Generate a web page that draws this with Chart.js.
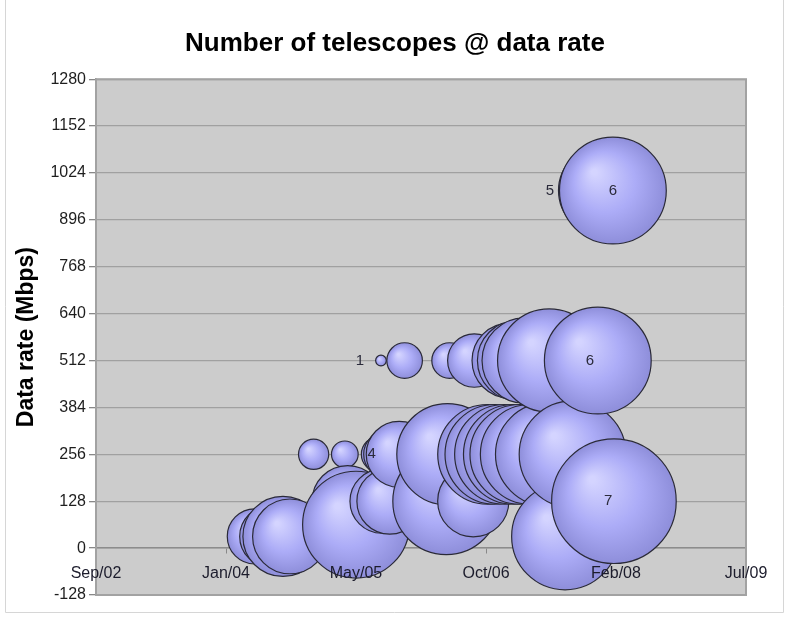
<!DOCTYPE html>
<html lang="en">
<head>
  <meta charset="UTF-8">
  <title>Number of telescopes @ data rate</title>
  <script src="https://cdn.jsdelivr.net/npm/chart.js"></script>
  <style>
    body { margin: 0; background: #fff; }
  </style>
</head>
<body>
  <canvas id="rateChart" width="787" height="628"></canvas>

  <script>
    // x axis is an Excel date axis: starts Sep/02, one major tick every 500 days
    const xTickDates = ['2002-09-01', '2004-01-14', '2005-05-28', '2006-10-10', '2008-02-22', '2009-07-06'];
    const xTickLabels = ['Sep/02', 'Jan/04', 'May/05', 'Oct/06', 'Feb/08', 'Jul/09'];

    // one bubble per observation: date, data rate (Mbps), number of telescopes
    const bubbleDates = [
      '2004-05-04', '2004-07-01', '2004-08-20', '2004-09-16', '2004-12-16',
      '2005-04-15', '2005-04-26', '2005-05-28', '2005-08-25', '2005-09-01',
      '2005-09-05', '2005-09-27', '2005-10-05', '2005-11-10', '2005-12-01',
      '2006-05-10', '2006-05-15', '2006-05-23', '2006-08-22', '2006-08-26',
      '2006-10-16', '2006-11-13', '2006-12-20', '2007-01-08', '2007-01-23',
      '2007-02-08', '2007-02-17', '2007-03-08', '2007-03-29', '2007-06-02',
      '2007-06-10', '2007-08-10', '2007-09-08', '2007-12-14', '2008-01-03',
      '2008-02-10', '2008-02-14'
    ];
    const bubbleRates = [
      32, 32, 32, 32, 256,
      256, 128, 64, 256, 512,
      128, 256, 128, 256, 512,
      128, 256, 512, 128, 512,
      256, 256, 256, 512, 256,
      512, 256, 512, 256, 256,
      512, 32, 256, 512, 976,
      976, 128
    ];
    const bubbleSizes = [
      3.1, 3.4, 4.5, 4.2, 1.7,
      1.5, 4, 6, 2, 0.6,
      3.6, 2.7, 3.7, 3.7, 2,
      6, 5.7, 2, 4, 3,
      5.6, 5.6, 5.6, 4.2, 5.6,
      4.5, 5.6, 4.8, 5.6, 5.8,
      5.8, 6, 6, 6, 5,
      6, 7
    ];

    // numbers written on the chart
    const labelDates = ['2005-06-12', '2005-07-27', '2007-06-13', '2008-02-10', '2007-11-14', '2008-01-23'];
    const labelRates = [512, 256, 976, 976, 512, 128];
    const labelTexts = ['1', '4', '5', '6', '6', '7'];

    const PX_PER_TELESCOPE = 8.9;

    function dayNum(d) {
      return Date.parse(d) / 86400000;
    }

    const points = bubbleDates.map((d, i) => ({
      x: dayNum(d),
      y: bubbleRates[i],
      r: bubbleSizes[i] * PX_PER_TELESCOPE
    }));

    function bubbleFill(ctx) {
      const chart = ctx.chart;
      const p = ctx.raw;
      const flat = '#a6a6f2';
      if (!p || !chart.scales || !chart.scales.x || !chart.scales.y) return flat;
      const cx = chart.scales.x.getPixelForValue(p.x);
      const cy = chart.scales.y.getPixelForValue(p.y);
      const r = Math.max(p.r, 1);
      if (!isFinite(cx) || !isFinite(cy)) return flat;
      const g = chart.ctx.createRadialGradient(cx - r * 0.35, cy - r * 0.35, r * 0.05, cx, cy, r);
      g.addColorStop(0, '#d4d4ff');
      g.addColorStop(0.55, '#acacf7');
      g.addColorStop(1, '#8e8eda');
      return g;
    }

    // grey plot area + frame, and the frame round the whole picture
    const plotArea = {
      id: 'plotArea',
      beforeDraw(chart) {
        const { ctx, chartArea: a } = chart;
        ctx.save();
        ctx.fillStyle = '#cccccc';
        ctx.fillRect(a.left, a.top, a.right - a.left, a.bottom - a.top);
        ctx.restore();
      },
      beforeDatasetsDraw(chart) {
        const { ctx, chartArea: a } = chart;
        ctx.save();
        ctx.strokeStyle = '#a2a2a2';
        ctx.lineWidth = 2;
        ctx.strokeRect(a.left, a.top, a.right - a.left, a.bottom - a.top);
        ctx.restore();
      },
      afterDraw(chart) {
        const ctx = chart.ctx;
        ctx.save();
        ctx.strokeStyle = '#d6d6d6';
        ctx.lineWidth = 1;
        ctx.beginPath();
        ctx.moveTo(5.5, 0);
        ctx.lineTo(5.5, 612.5);
        ctx.lineTo(783.5, 612.5);
        ctx.lineTo(783.5, 0);
        ctx.stroke();
        ctx.restore();
      }
    };

    const pointLabels = {
      id: 'pointLabels',
      afterDatasetsDraw(chart) {
        const ctx = chart.ctx;
        const xs = chart.scales.x, ys = chart.scales.y;
        ctx.save();
        ctx.font = '15px "Liberation Sans", Arial, sans-serif';
        ctx.fillStyle = '#2b2b3b';
        ctx.textAlign = 'center';
        ctx.textBaseline = 'middle';
        labelTexts.forEach((t, i) => {
          ctx.fillText(t, xs.getPixelForValue(dayNum(labelDates[i])), ys.getPixelForValue(labelRates[i]));
        });
        ctx.restore();
      }
    };

    Chart.defaults.font.family = '"Liberation Sans", Arial, sans-serif';
    Chart.defaults.color = '#1e1e1e';

    new Chart(document.getElementById('rateChart'), {
      type: 'bubble',
      data: {
        datasets: [{
          label: 'Telescopes',
          data: points,
          backgroundColor: bubbleFill,
          borderColor: '#2a2a38',
          borderWidth: 1.2
        }]
      },
      options: {
        responsive: false,
        animation: false,
        events: [],
        layout: {
          autoPadding: false,   // bubbles would otherwise push the plot area in
          padding: { left: 44, right: 41, top: 0, bottom: 33 }
        },
        plugins: {
          legend: { display: false },
          tooltip: { enabled: false },
          title: {
            display: true,
            text: 'Number of telescopes @ data rate',
            color: '#000',
            font: { size: 26, weight: 'bold' },
            padding: { top: 28, bottom: 20 }
          }
        },
        scales: {
          x: {
            type: 'linear',
            position: { y: 0 },   // axis crosses at 0 like in Excel
            min: dayNum(xTickDates[0]),
            max: dayNum(xTickDates[xTickDates.length - 1]),
            afterBuildTicks: (scale) => {
              scale.ticks = xTickDates.map(d => ({ value: dayNum(d) }));
            },
            ticks: {
              z: 1,               // date labels sit on top of the bubbles
              autoSkip: false,
              maxRotation: 0,
              padding: 11,
              font: { size: 16 },
              color: '#1c1c2c',
              callback: (value, index) => xTickLabels[index]
            },
            grid: { drawOnChartArea: false, tickLength: 5, tickColor: '#888' },
            border: { display: true, color: '#8c8c8c', width: 1.5 }
          },
          y: {
            min: -128,
            max: 1280,
            afterFit: (scale) => { scale.width = 52; },
            ticks: {
              stepSize: 128,
              padding: 3,
              font: { size: 16 },
              callback: (value) => String(value)
            },
            grid: { color: '#a0a0a0', lineWidth: 1.3, tickLength: 7, tickColor: '#888' },
            border: { display: true, color: '#8c8c8c', width: 1.5 },
            title: {
              display: true,
              text: 'Data rate (Mbps)',
              color: '#000',
              font: { size: 23, weight: 'bold' },
              padding: { top: -31, bottom: 0 }
            }
          }
        }
      },
      plugins: [plotArea, pointLabels]
    });
  </script>
</body>
</html>
